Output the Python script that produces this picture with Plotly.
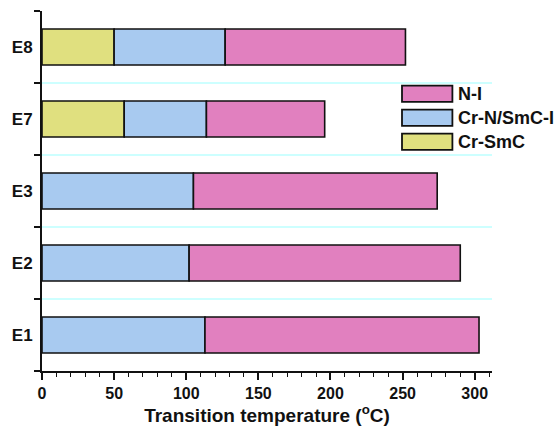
import plotly.graph_objects as go

# Compounds, bottom to top
compounds = ["E1", "E2", "E3", "E7", "E8"]

# Transition temperatures (°C)
cr_smc = [None, None, None, 57, 50]          # Cr -> SmC
cr_n_smc_i = [113, 102, 105, 114, 127]      # Cr -> N / SmC -> I
n_i = [303, 290, 274, 196, 252]             # N -> I

series_names = ["N-I", "Cr-N/SmC-I", "Cr-SmC"]
colors = {"Cr-SmC": "#e0e07f", "Cr-N/SmC-I": "#a8caf0", "N-I": "#e180bf"}

font_family = "Liberation Sans, Arial, sans-serif"
ypos = list(range(len(compounds)))

fig = go.Figure()

line = dict(color="#111111", width=1.6)

# Cr-SmC segment (from 0 up to the SmC onset)
fig.add_trace(go.Bar(
    y=ypos, x=[v if v is not None else 0 for v in cr_smc], base=0,
    orientation="h", marker=dict(color=colors["Cr-SmC"], line=line),
    width=0.5, showlegend=False, name="Cr-SmC",
))
# Cr-N / SmC-I segment
lo = [v if v is not None else 0 for v in cr_smc]
fig.add_trace(go.Bar(
    y=ypos, x=[h - l for h, l in zip(cr_n_smc_i, lo)], base=lo,
    orientation="h", marker=dict(color=colors["Cr-N/SmC-I"], line=line),
    width=0.5, showlegend=False, name="Cr-N/SmC-I",
))
# N-I segment
fig.add_trace(go.Bar(
    y=ypos, x=[h - l for h, l in zip(n_i, cr_n_smc_i)], base=cr_n_smc_i,
    orientation="h", marker=dict(color=colors["N-I"], line=line),
    width=0.5, showlegend=False, name="N-I",
))

# Cyan separators between compounds
shapes = []
for i in range(len(compounds) - 1):
    shapes.append(dict(type="line", xref="paper", yref="y", x0=0, x1=1,
                       y0=i + 0.5, y1=i + 0.5,
                       line=dict(color="#bcffff", width=1.5), layer="below"))

# Custom legend with wide swatches
annotations = []
leg_x0, leg_x1 = 0.800, 0.912
leg_top = 0.770
row_h = 0.0665
box_h = 0.045
for k, name in enumerate(series_names):
    yc = leg_top - k * row_h
    shapes.append(dict(type="rect", xref="paper", yref="paper",
                       x0=leg_x0, x1=leg_x1, y0=yc - box_h / 2, y1=yc + box_h / 2,
                       fillcolor=colors[name], line=dict(color="#111111", width=1.8)))
    annotations.append(dict(xref="paper", yref="paper", x=leg_x1 + 0.008, y=yc,
                            xanchor="left", yanchor="middle", text="<b>%s</b>" % name,
                            showarrow=False,
                            font=dict(family=font_family, size=18, color="#111111")))

fig.update_layout(
    width=558, height=429,
    margin=dict(l=42, r=66, t=11, b=52),
    plot_bgcolor="white", paper_bgcolor="white",
    barmode="overlay",
    shapes=shapes, annotations=annotations,
    font=dict(family=font_family, color="#111111"),
    xaxis=dict(
        range=[0, 312], tickvals=[0, 50, 100, 150, 200, 250, 300],
        ticks="outside", ticklen=7, tickwidth=1.5, tickcolor="#111111",
        showline=True, linecolor="#111111", linewidth=2, showgrid=False, zeroline=False,
        minor=dict(dtick=10, tick0=0, ticks="outside", ticklen=4, tickwidth=1.2,
                   tickcolor="#111111", showgrid=False),
        tickfont=dict(family=font_family, size=16, color="#111111", weight="bold"),
        title=dict(text="<b>Transition temperature (<sup>o</sup>C)</b>",
                   font=dict(family=font_family, size=19, color="#111111"), standoff=2),
    ),
    yaxis=dict(
        range=[-0.5, 4.5], tickvals=ypos, ticktext=compounds,
        ticks="", showline=True, linecolor="#111111", linewidth=2,
        showgrid=False, zeroline=False, ticklabelstandoff=4,
        minor=dict(dtick=1, tick0=0.5, ticks="outside", ticklen=6, tickwidth=1.5,
                   tickcolor="#111111", showgrid=False),
        tickfont=dict(family=font_family, size=17, color="#111111", weight="bold"),
    ),
)

fig.write_html("out.html")
